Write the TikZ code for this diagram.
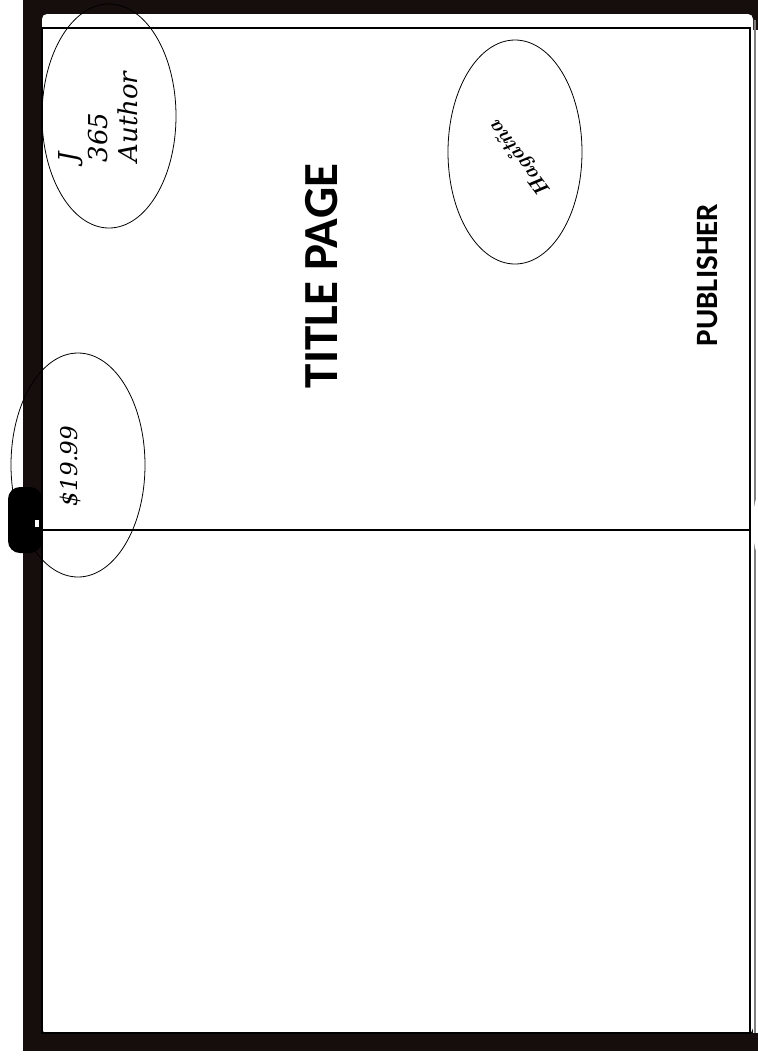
\documentclass[tikz,border=0pt]{standalone}
\usepackage{fontspec}
\newfontfamily\calibri{Carlito}
\newfontfamily\cambria{DejaVu Serif}
\usetikzlibrary{shapes.geometric}
\definecolor{coverblack}{RGB}{22,14,12}

\begin{document}
\begin{tikzpicture}[x=1pt, y=-1pt,
  oval/.style={draw, ellipse, line width=0.8pt, minimum width=134pt, minimum height=224pt, inner sep=0pt},
  upword/.style={rotate=90, inner sep=0pt}]
\useasboundingbox (0,0) rectangle (758,1061);
% cover and page
\fill[coverblack] (23,0) rectangle (758,1051);
\fill[white, rounded corners=5pt] (42,14) rectangle (753,1033);
\fill[white] (753,30) rectangle (758,1033);
\draw[line width=2.5pt] (42,28) rectangle (750,1033);
\draw[gray, line width=1.2pt] (755,20) -- (755,1033);
\draw[line width=2pt] (42,530) -- (750,530);
% clasps
\fill[black, rounded corners=12pt] (8,487) rectangle (42,553);
\fill[white] (35,520) rectangle (39,527);
\fill[white] (758,525) ellipse [x radius=5pt, y radius=28pt];
% ovals
\node[oval] (authoroval) at (109,116) {};
\node[oval] (cityoval) at (515,152) {};
\node[oval] (priceoval) at (78,465) {};
% texts
\node[upword, align=left, font=\cambria\itshape\fontsize{26}{30}\selectfont] (author) at (98,117) {J\\365\\Author};
\node[upword, font=\cambria\itshape\fontsize{23}{28}\selectfont] (price) at (70,466) {\$19.99};
\node[rotate=127, inner sep=0pt, font=\bfseries\itshape\fontsize{21}{22}\selectfont] (city) at (521,158) {Hagåtña};
\node[upword, font=\calibri\bfseries\fontsize{49}{51}\selectfont] (title) at (322,276) {TITLE PAGE};
\node[upword, font=\calibri\bfseries\fontsize{31}{33}\selectfont] (publisher) at (707,275) {PUBLISHER};
\end{tikzpicture}
\end{document}
